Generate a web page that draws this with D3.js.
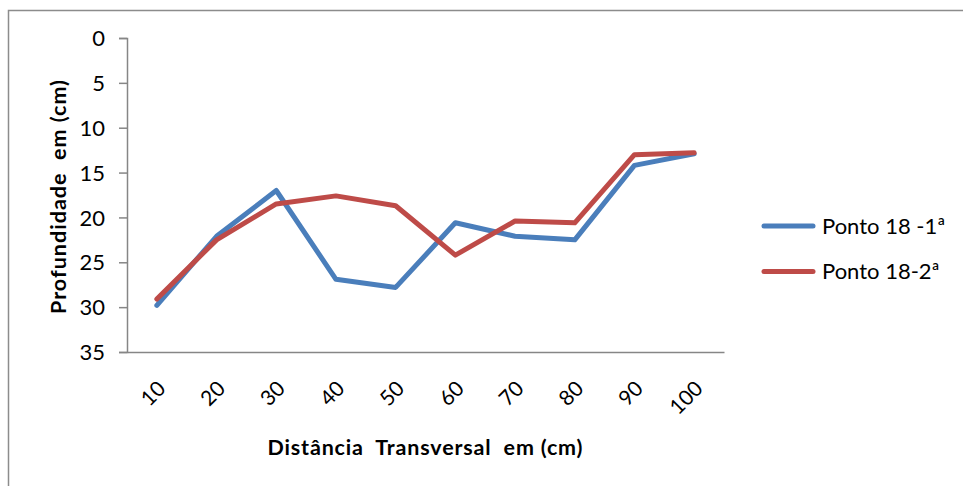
<!DOCTYPE html>
<html>
<head>
<meta charset="utf-8">
<script src="https://cdn.jsdelivr.net/npm/d3@7"></script>
<style>
  body { margin: 0; background: #fff; }
  svg { display: block; }
  text { font-family: Lato, "Open Sans", sans-serif; fill: #000; }
</style>
</head>
<body>
<svg id="chart" width="963" height="486"></svg>
<script>
// Distância transversal (cm)
const categories = [10, 20, 30, 40, 50, 60, 70, 80, 90, 100];
// Profundidade (cm) em cada ponto
const ponto18_1 = [29.8, 22.1, 17.0, 26.9, 27.8, 20.6, 22.1, 22.5, 14.2, 12.9];
const ponto18_2 = [29.1, 22.5, 18.5, 17.6, 18.7, 24.2, 20.4, 20.6, 13.0, 12.8];
const yTicks = [0, 5, 10, 15, 20, 25, 30, 35];
const seriesNames = ["Ponto 18 -1ª", "Ponto 18-2ª"];
const seriesColors = ["#4A7EBB", "#BE4B48"];

const svg = d3.select("#chart");

// outer chart frame
svg.append("rect")
  .attr("x", 8.5).attr("y", 10.5)
  .attr("width", 1000).attr("height", 600)
  .attr("fill", "none").attr("stroke", "#8c8c8c").attr("stroke-width", 1.5);

const plot = { left: 127, right: 724, top: 38, bottom: 352 };

const x = d3.scaleBand().domain(categories).range([plot.left, plot.right]);
const y = d3.scaleLinear().domain([0, 35]).range([plot.top, plot.bottom]);

// y axis (depth increases downward)
const yAxis = svg.append("g")
  .attr("transform", `translate(${plot.left},0)`)
  .call(d3.axisLeft(y).tickValues(yTicks).tickSize(8).tickPadding(14));
yAxis.select(".domain").attr("stroke", "#868686").attr("stroke-width", 1.5);
yAxis.selectAll(".tick line").attr("stroke", "#868686").attr("stroke-width", 1.5);
yAxis.selectAll(".tick text")
  .style("font-size", "22px").attr("dy", "0.35em").attr("fill", "#000");

// x axis
const xAxis = svg.append("g")
  .attr("transform", `translate(0,${plot.bottom})`)
  .call(d3.axisBottom(x).tickSize(0).tickSizeOuter(0));
xAxis.select(".domain").attr("stroke", "#868686").attr("stroke-width", 1.5);
xAxis.selectAll(".tick text")
  .style("font-size", "21px")
  .attr("text-anchor", "end")
  .attr("dy", 0).attr("y", 0)
  .attr("transform", "translate(10,38) rotate(-45)")
  .attr("fill", "#000");

// lines
const line = d3.line()
  .x((d, i) => x(categories[i]) + x.bandwidth() / 2)
  .y(d => y(d));

[ponto18_1, ponto18_2].forEach((vals, k) => {
  svg.append("path")
    .datum(vals)
    .attr("d", line)
    .attr("fill", "none")
    .attr("stroke", seriesColors[k])
    .attr("stroke-width", 5)
    .attr("stroke-linejoin", "round")
    .attr("stroke-linecap", "round");
});

// axis titles
svg.append("text")
  .attr("x", 425).attr("y", 455)
  .attr("text-anchor", "middle")
  .attr("textLength", 315).attr("lengthAdjust", "spacing")
  .style("font-size", "21.5px").style("font-weight", "bold")
  .style("white-space", "pre")
  .text("Distância  Transversal  em (cm)");

svg.append("text")
  .attr("transform", "translate(66,197) rotate(-90)")
  .attr("text-anchor", "middle")
  .attr("textLength", 234).attr("lengthAdjust", "spacing")
  .style("font-size", "21.5px").style("font-weight", "bold")
  .style("white-space", "pre")
  .text("Profundidade  em (cm)");

// legend
const legend = svg.append("g");
seriesNames.forEach((name, k) => {
  const ly = 226 + k * 45.5;
  legend.append("line")
    .attr("x1", 764).attr("x2", 813)
    .attr("y1", ly).attr("y2", ly)
    .attr("stroke", seriesColors[k]).attr("stroke-width", 5)
    .attr("stroke-linecap", "round");
  legend.append("text")
    .attr("x", 822).attr("y", ly).attr("dy", "0.35em")
    .style("font-size", "22px")
    .text(name);
});
</script>
</body>
</html>
